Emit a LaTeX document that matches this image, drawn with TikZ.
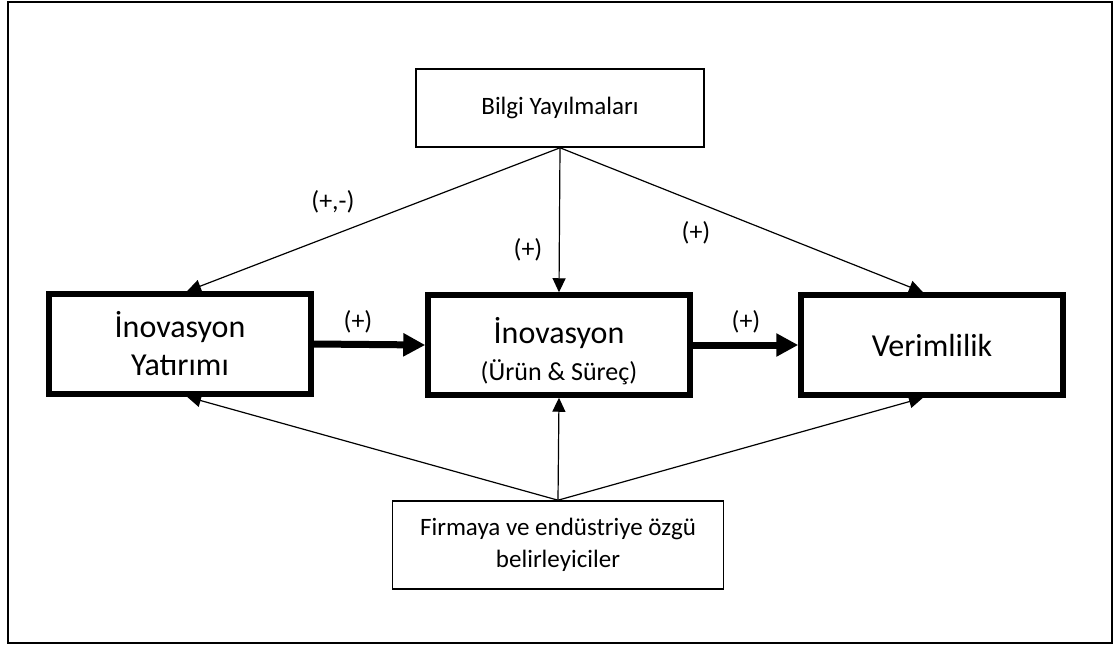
\documentclass[tikz,border=0pt]{standalone}
\usepackage{fontspec}
\setmainfont{Carlito}
\usetikzlibrary{arrows.meta,calc}
\begin{document}
\begin{tikzpicture}[x=1pt,y=-1pt,
  bigbox/.style={draw,line width=5.5pt,minimum width=262pt,minimum height=100pt,inner sep=0pt,align=center,font=\fontsize{32}{38}\selectfont},
  smallbox/.style={draw,line width=1.6pt,inner sep=0pt,align=center,font=\fontsize{25}{32}\selectfont},
  thin/.style={line width=1.2pt,-{Triangle[length=14pt,width=13pt]}},
  thick/.style={line width=7pt,-{Triangle[length=22pt,width=22pt]}},
  lbl/.style={font=\fontsize{26}{30}\selectfont,inner sep=0pt}]
\useasboundingbox (0,0) rectangle (1120,648);
\node[draw,line width=2pt,minimum width=1104pt,minimum height=641pt,inner sep=0pt] (frame) at (560,322.5) {};
\node[smallbox,minimum width=288pt,minimum height=78pt] (bilgi) at (560,108) {Bilgi Yayılmaları};
\node[bigbox] (yat) at (180,344) {İnovasyon\\Yatırımı};
\node[bigbox] (ino) at (559,345) {};
\node[align=center,inner sep=0pt,font=\fontsize{32}{38}\selectfont] (inotext) at (559,351) {İnovasyon\\[-1pt]{\fontsize{26}{30}\selectfont (Ürün \& Süreç)}};
\node[bigbox] (ver) at (932,345) {Verimlilik};
\node[smallbox,minimum width=331pt,minimum height=88pt] (firma) at (558,545) {Firmaya ve endüstriye özgü\\belirleyiciler};
\draw[thin] (bilgi.south) -- ($(yat.north)+(7,0)$);
\draw[thin] (bilgi.south) -- (ino.north);
\draw[thin] (bilgi.south) -- ($(ver.north)+(-9,0)$);
\draw[thin] (firma.north) -- ($(yat.south)+(7,0)$);
\draw[thin] (firma.north) -- (ino.south);
\draw[thin] (firma.north) -- ($(ver.south)+(-9,0)$);
\draw[thick] (yat.east) -- (ino.west);
\draw[thick] (ino.east) -- (ver.west);
\node[lbl] (l1) at (333,202) {(+,-)};
\node[lbl] (l2) at (528,250) {(+)};
\node[lbl] (l3) at (696,233) {(+)};
\node[lbl] (l4) at (358,322) {(+)};
\node[lbl] (l5) at (746,322) {(+)};
\end{tikzpicture}
\end{document}
